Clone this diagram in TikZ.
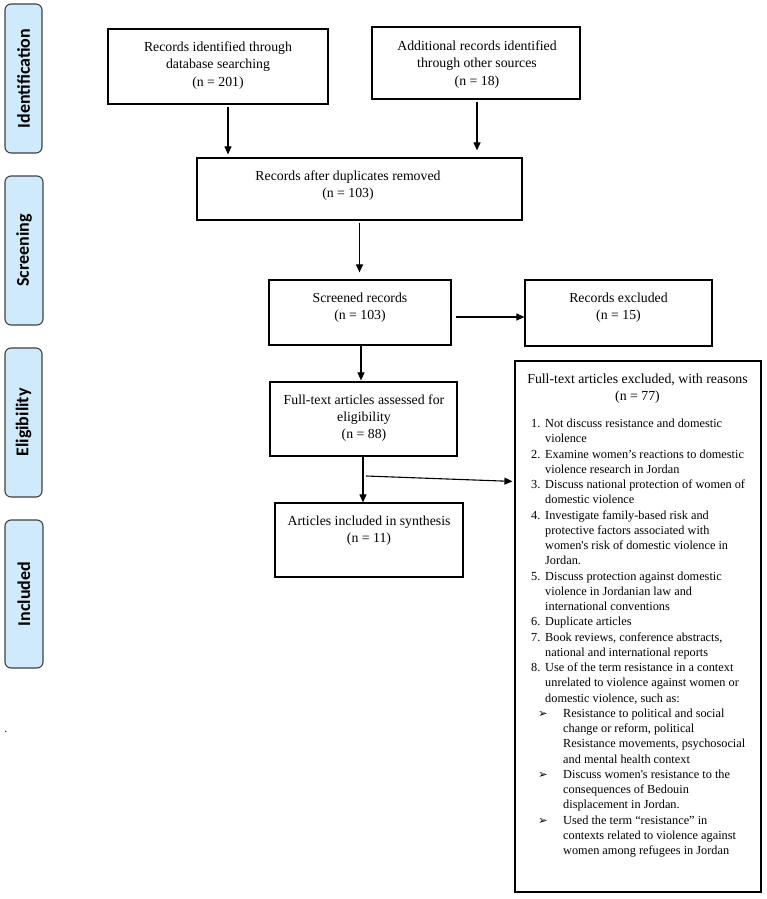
\documentclass[tikz,border=0pt]{standalone}
\usepackage{fontspec}
\setmainfont{Liberation Serif}
\newfontfamily\lblfont{Carlito}
\newfontfamily\dejavu{DejaVu Sans}
\usetikzlibrary{arrows.meta,calc}
\definecolor{sideblue}{RGB}{206,234,251}
\newcommand\bul{{\dejavu\fontsize{11.5}{11}\selectfont ➢}}
\newcommand\num[1]{\makebox[14pt][l]{#1}}
\newcommand\ind{\hspace*{14pt}}
\newcommand\bitem{\hspace*{7pt}\makebox[25pt][l]{\bul}}
\newcommand\bind{\hspace*{32pt}}
\begin{document}
\begin{tikzpicture}[x=1pt,y=-1pt,
  box/.style={draw=black, line width=1.2pt, inner sep=0pt},
  side/.style={draw=black!75, fill=sideblue, line width=1.1pt, rounded corners=6pt, inner sep=0pt, rotate=90, font=\lblfont\bfseries\fontsize{18}{20}\selectfont},
  txt/.style={inner sep=0pt, align=center, font=\fontsize{13.8}{17.2}\selectfont},
  arr/.style={line width=1.1pt, -{Triangle[length=8pt,width=7pt]}}]
\useasboundingbox (0,0) rectangle (767,899);

% side labels
\node[side, minimum width=149pt, minimum height=37pt] (s1) at (23.5,78.5) {Identification};
\node[side, minimum width=149pt, minimum height=38pt] (s2) at (24,250.5) {Screening};
\node[side, minimum width=149pt, minimum height=37pt] (s3) at (23.5,422.5) {Eligibility};
\node[side, minimum width=148pt, minimum height=38pt] (s4) at (24,594) {Included};

% boxes
\node[box, minimum width=220pt, minimum height=75pt] (b1) at (218,66.5) {};
\node[txt] (t1) at (218,65.5) {Records identified through\\database searching\\(n = 201)};
\node[box, minimum width=208pt, minimum height=72pt] (b2) at (476,63) {};
\node[txt] (t2) at (477,64.5) {Additional records identified\\through other sources\\(n = 18)};
\node[box, minimum width=325pt, minimum height=62pt] (b3) at (359.5,189) {};
\node[txt] (t3) at (348,185.5) {Records after duplicates removed\\(n = 103)};
\node[box, minimum width=182pt, minimum height=65pt] (scr) at (360,312.5) {};
\node[txt] (t4) at (360,307.5) {Screened records\\(n = 103)};
\node[box, minimum width=187pt, minimum height=66pt] (exc) at (618.5,313) {};
\node[txt] (t5) at (618.5,307.5) {Records excluded\\(n = 15)};
\node[box, minimum width=187pt, minimum height=74pt] (ft) at (363.5,419) {};
\node[txt] (t6) at (364,418) {Full-text articles assessed for\\eligibility\\(n = 88)};
\node[box, minimum width=188pt, minimum height=74pt] (inc) at (369,540) {};
\node[txt] (t7) at (369,530.5) {Articles included in synthesis\\(n = 11)};
\node[box, minimum width=246pt, minimum height=531pt] (big) at (638,626.5) {};
\node[txt] (t8) at (637.5,388.5) {Full-text articles excluded, with reasons\\(n = 77)};
\node[inner sep=0pt, anchor=north west, align=left, font=\fontsize{12.3}{15.25}\selectfont] (lst) at (531,419) {%
\num{1.}Not discuss resistance and domestic\\
\ind violence\\
\num{2.}Examine women’s reactions to domestic\\
\ind violence research in Jordan\\
\num{3.}Discuss national protection of women of\\
\ind domestic violence\\
\num{4.}Investigate family-based risk and\\
\ind protective factors associated with\\
\ind women\textquotesingle s risk of domestic violence in\\
\ind Jordan.\\
\num{5.}Discuss protection against domestic\\
\ind violence in Jordanian law and\\
\ind international conventions\\
\num{6.}Duplicate articles\\
\num{7.}Book reviews, conference abstracts,\\
\ind national and international reports\\
\num{8.}Use of the term resistance in a context\\
\ind unrelated to violence against women or\\
\ind domestic violence, such as:\\
\bitem Resistance to political and social\\
\bind change or reform, political\\
\bind Resistance movements, psychosocial\\
\bind and mental health context\\
\bitem Discuss women\textquotesingle s resistance to the\\
\bind consequences of Bedouin\\
\bind displacement in Jordan.\\
\bitem Used the term “resistance” in\\
\bind contexts related to violence against\\
\bind women among refugees in Jordan};

\node[inner sep=0pt, font=\fontsize{12}{12}\selectfont] (dot) at (6,732) {.};

% connectors
\draw[arr, shorten <=2pt, shorten >=3pt] ([xshift=10pt]b1.south) -- ([xshift=10pt]b1.south |- b3.north);
\draw[arr, shorten <=2pt, shorten >=7pt] ([xshift=1pt]b2.south) -- ([xshift=1pt]b2.south |- b3.north);
\draw[arr, shorten <=2pt, shorten >=7pt] (b3.south) -- (b3.south |- scr.north);
\draw[arr, shorten >=1pt] ([xshift=1pt]scr.south) -- ([xshift=1pt]scr.south |- ft.north);
\draw[arr] ([xshift=-0.5pt]ft.south) -- ([xshift=-0.5pt]ft.south |- inc.north);
\draw[arr, shorten <=4pt] ([yshift=-4.5pt]scr.east) -- ([yshift=-4.5pt]scr.east -| exc.west);
\coordinate (sp) at (366,476);
\coordinate (ep) at ($(big.north west)+(-2,121)$);
\draw[arr] (sp) -- (ep);
\end{tikzpicture}
\end{document}
